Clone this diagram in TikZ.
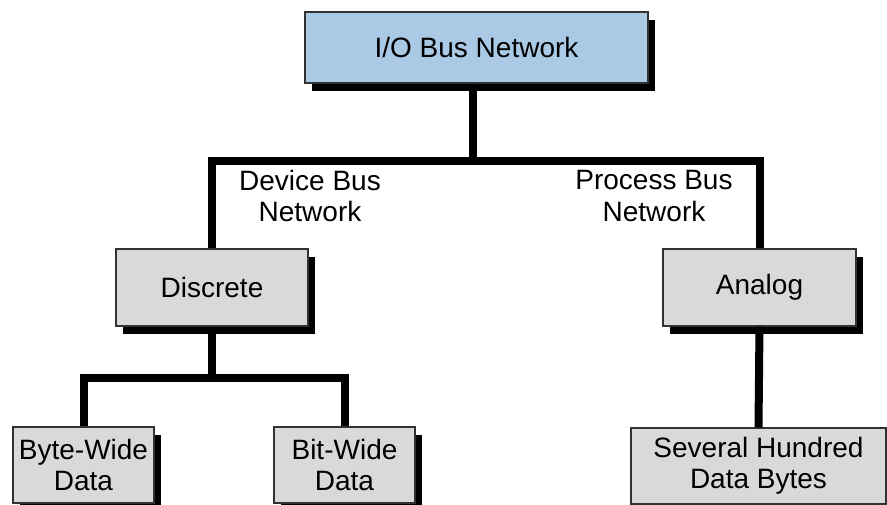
\documentclass[tikz,border=0pt]{standalone}
\usepackage{fontspec}
\setmainfont{Liberation Sans}
\usetikzlibrary{shadows}
\definecolor{topblue}{RGB}{169,201,229}
\definecolor{boxgray}{RGB}{217,217,217}
\definecolor{edgegray}{RGB}{50,50,50}
\tikzset{
  txt/.style={font=\fontsize{28}{31.5}\selectfont, align=center, inner sep=0pt},
  box/.style={txt, draw=edgegray, line width=1.3pt, fill=boxgray,
    drop shadow={fill=black, opacity=1, shadow xshift=7pt, shadow yshift=-8pt}},
  topbox/.style={box, fill=topblue},
  conn/.style={line width=8pt, line join=miter, black},
}
\begin{document}
\begin{tikzpicture}[x=1pt,y=-1pt]
\clip (0,0) rectangle (887,504);
\fill[white] (0,0) rectangle (887,504);
% boxes
\node[topbox, minimum width=343pt, minimum height=71pt] (top) at (476.5,47.5) {I/O Bus Network};
\node[box, minimum width=192pt, minimum height=77pt] (disc) at (212,287.5) {Discrete};
\node[box, minimum width=193pt, minimum height=77pt] (ana) at (759.5,287.5) {Analog};
\node[box, minimum width=141pt, minimum height=76pt] (byte) at (83.5,465) {Byte-Wide\\Data};
\node[box, minimum width=141pt, minimum height=76pt] (bit) at (344.5,465) {Bit-Wide\\Data};
\node[box, minimum width=255pt, minimum height=76pt] (sev) at (758.5,466) {Several Hundred\\Data Bytes};
% labels
\node[txt] (dev) at (310,196) {Device Bus\\Network};
\node[txt] (proc) at (654,196) {Process Bus\\Network};
% junctions
\coordinate (j1) at (473,161);
\coordinate (j2) at (212,378);
% connectors
\draw[conn] ([xshift=-3.5pt]top.south) -- (j1);
\draw[conn] (disc.north) |- (j1) -| (ana.north);
\draw[conn] (disc.south) -- (j2);
\draw[conn] (byte.north) |- (j2) -| (bit.north);
\draw[conn] (ana.south) -- (sev.north);
\end{tikzpicture}
\end{document}
